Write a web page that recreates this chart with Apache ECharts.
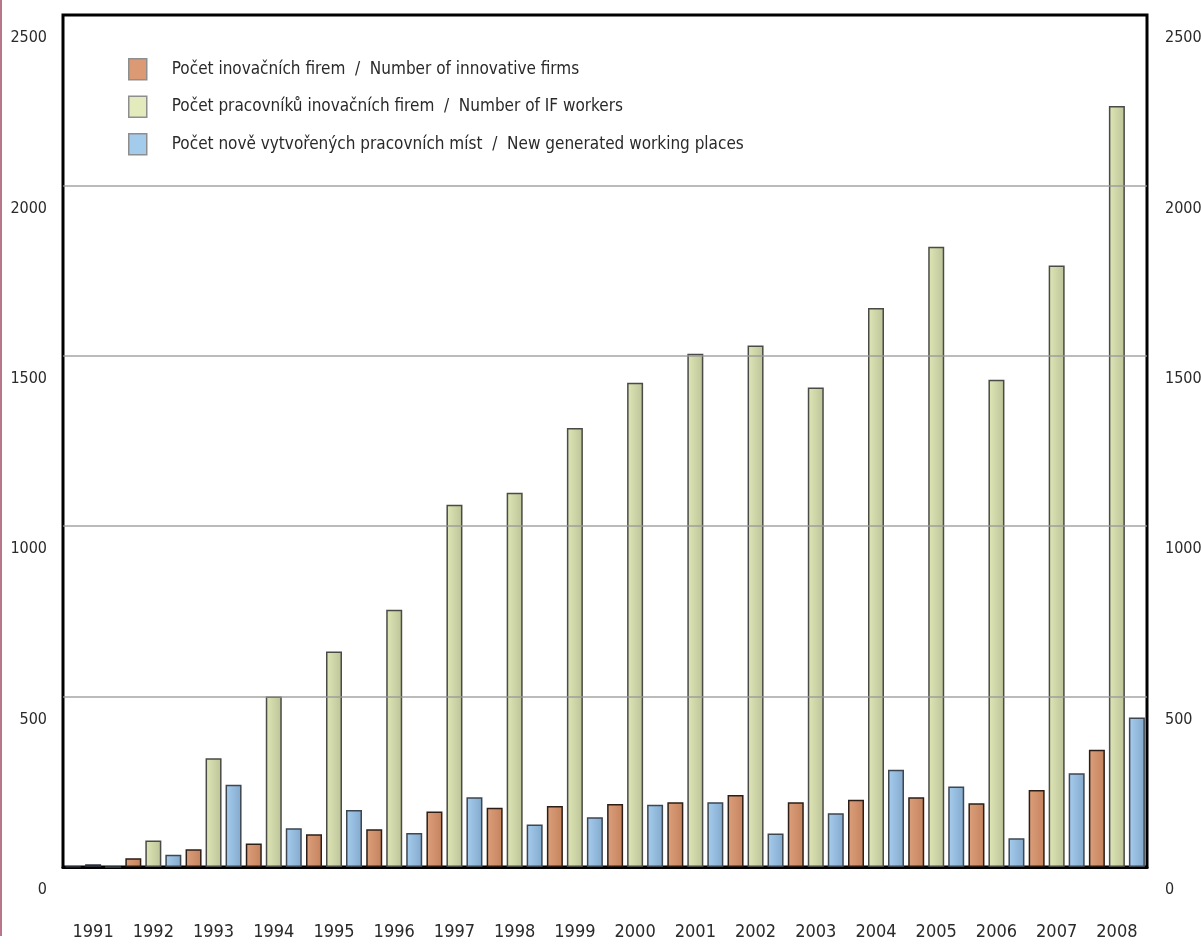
<!DOCTYPE html>
<html>
<head>
<meta charset="utf-8">
<title>Inovační firmy 1991–2008</title>
<script src="https://cdn.jsdelivr.net/npm/echarts@6/dist/echarts.min.js"></script>
<style>
  html, body { margin: 0; padding: 0; background: #fff; overflow: hidden; }
  #chart { width: 1201px; height: 944px; }
</style>
</head>
<body>
<div id="chart"></div>
<script>
// Years on the category axis
const years = ['1991', '1992', '1993', '1994', '1995', '1996', '1997', '1998', '1999',
               '2000', '2001', '2002', '2003', '2004', '2005', '2006', '2007', '2008'];

// Počet inovačních firem / Number of innovative firms
const firms = [2, 26, 52, 69, 96, 111, 163, 174, 179, 185, 190, 211, 190, 197, 205, 187, 226, 344];

// Počet pracovníků inovačních firem / Number of IF workers
const workers = [8, 78, 319, 500, 632, 755, 1063, 1098, 1288, 1421, 1506, 1530, 1407, 1640, 1820, 1430, 1765, 2233];

// Počet nově vytvořených pracovních míst / New generated working places
const newPlaces = [0, 36, 241, 114, 167, 100, 205, 125, 146, 183, 190, 98, 158, 285, 236, 84, 275, 439];

const seriesNames = [
  'Počet inovačních firem  /  Number of innovative firms',
  'Počet pracovníků inovačních firem  /  Number of IF workers',
  'Počet nově vytvořených pracovních míst  /  New generated working places'
];

const FONT = '"DejaVu Sans Condensed", "DejaVu Sans", sans-serif';
const TEXT = '#2a2a2a';

function grad(c1, c2) {
  return new echarts.graphic.LinearGradient(0, 0, 1, 0, [
    { offset: 0, color: c1 },
    { offset: 1, color: c2 }
  ]);
}

// the first year is drawn in a dark slate tone
function firstYearDark(values) {
  return values.map((v, i) => i === 0
    ? { value: v, itemStyle: { color: '#4c5462', borderColor: '#2a2e36' } }
    : v);
}

const chart = echarts.init(document.getElementById('chart'), null, { renderer: 'canvas' });

const yAxisBase = {
  type: 'value',
  min: 0,
  max: 2500,
  interval: 500,
  axisLine: { show: false },
  axisTick: { show: false },
  axisLabel: {
    fontFamily: FONT,
    fontSize: 16,
    color: TEXT,
    verticalAlign: 'top',
    padding: [15, 0, 0, 0],
    formatter: v => String(v)
  }
};

chart.setOption({
  animation: false,
  backgroundColor: '#ffffff',
  graphic: [
    {
      type: 'rect',
      left: 0,
      top: 0,
      shape: { x: 0, y: 0, width: 2, height: 936 },
      style: { fill: '#b9768a' },
      silent: true
    }
  ],
  legend: {
    orient: 'vertical',
    left: 128,
    top: 58,
    padding: 0,
    itemWidth: 18,
    itemHeight: 21,
    itemGap: 15,
    icon: 'rect',
    selectedMode: false,
    textStyle: {
      fontFamily: FONT,
      fontSize: 17,
      color: TEXT,
      padding: [0, 0, 0, 20]
    },
    data: [
      { name: seriesNames[0], itemStyle: { color: '#dc9a74', borderColor: '#8e8e8e', borderWidth: 1.5 } },
      { name: seriesNames[1], itemStyle: { color: '#e3ebbd', borderColor: '#8e8e8e', borderWidth: 1.5 } },
      { name: seriesNames[2], itemStyle: { color: '#a3cbec', borderColor: '#8e8e8e', borderWidth: 1.5 } }
    ]
  },
  grid: {
    left: 63,
    right: 54,
    top: 15,
    bottom: 77,
    outerBoundsMode: 'none',
    containLabel: false,
    show: true,
    borderColor: '#000',
    borderWidth: 3,
    backgroundColor: '#fff'
  },
  xAxis: {
    type: 'category',
    data: years,
    axisLine: { show: true, lineStyle: { color: '#000', width: 3 } },
    axisTick: { show: false },
    axisLabel: {
      fontFamily: FONT,
      fontSize: 18,
      color: TEXT,
      margin: 56
    }
  },
  yAxis: [
    Object.assign({}, yAxisBase, {
      position: 'left',
      z: 3,
      axisLabel: Object.assign({}, yAxisBase.axisLabel, { margin: 16, align: 'right' }),
      splitLine: {
        show: true,
        showMinLine: false,
        showMaxLine: false,
        lineStyle: { color: 'rgba(150,150,150,0.65)', width: 2 }
      }
    }),
    Object.assign({}, yAxisBase, {
      position: 'right',
      axisLabel: Object.assign({}, yAxisBase.axisLabel, { margin: 18, align: 'left' }),
      splitLine: { show: false }
    })
  ],
  series: [
    {
      name: seriesNames[0],
      type: 'bar',
      barWidth: 16,
      barGap: '25%',
      itemStyle: { color: grad('#dca07c', '#c4825c'), borderColor: '#2c1e16', borderWidth: 1.5 },
      data: firstYearDark(firms)
    },
    {
      name: seriesNames[1],
      type: 'bar',
      barWidth: 16,
      barGap: '25%',
      itemStyle: { color: grad('#dfe6b6', '#bcc398'), borderColor: '#4a4a46', borderWidth: 1.5 },
      data: firstYearDark(workers)
    },
    {
      name: seriesNames[2],
      type: 'bar',
      barWidth: 16,
      barGap: '25%',
      itemStyle: { color: grad('#a6cdee', '#83a9cc'), borderColor: '#3e4650', borderWidth: 1.5 },
      data: newPlaces
    }
  ]
});
</script>
</body>
</html>
